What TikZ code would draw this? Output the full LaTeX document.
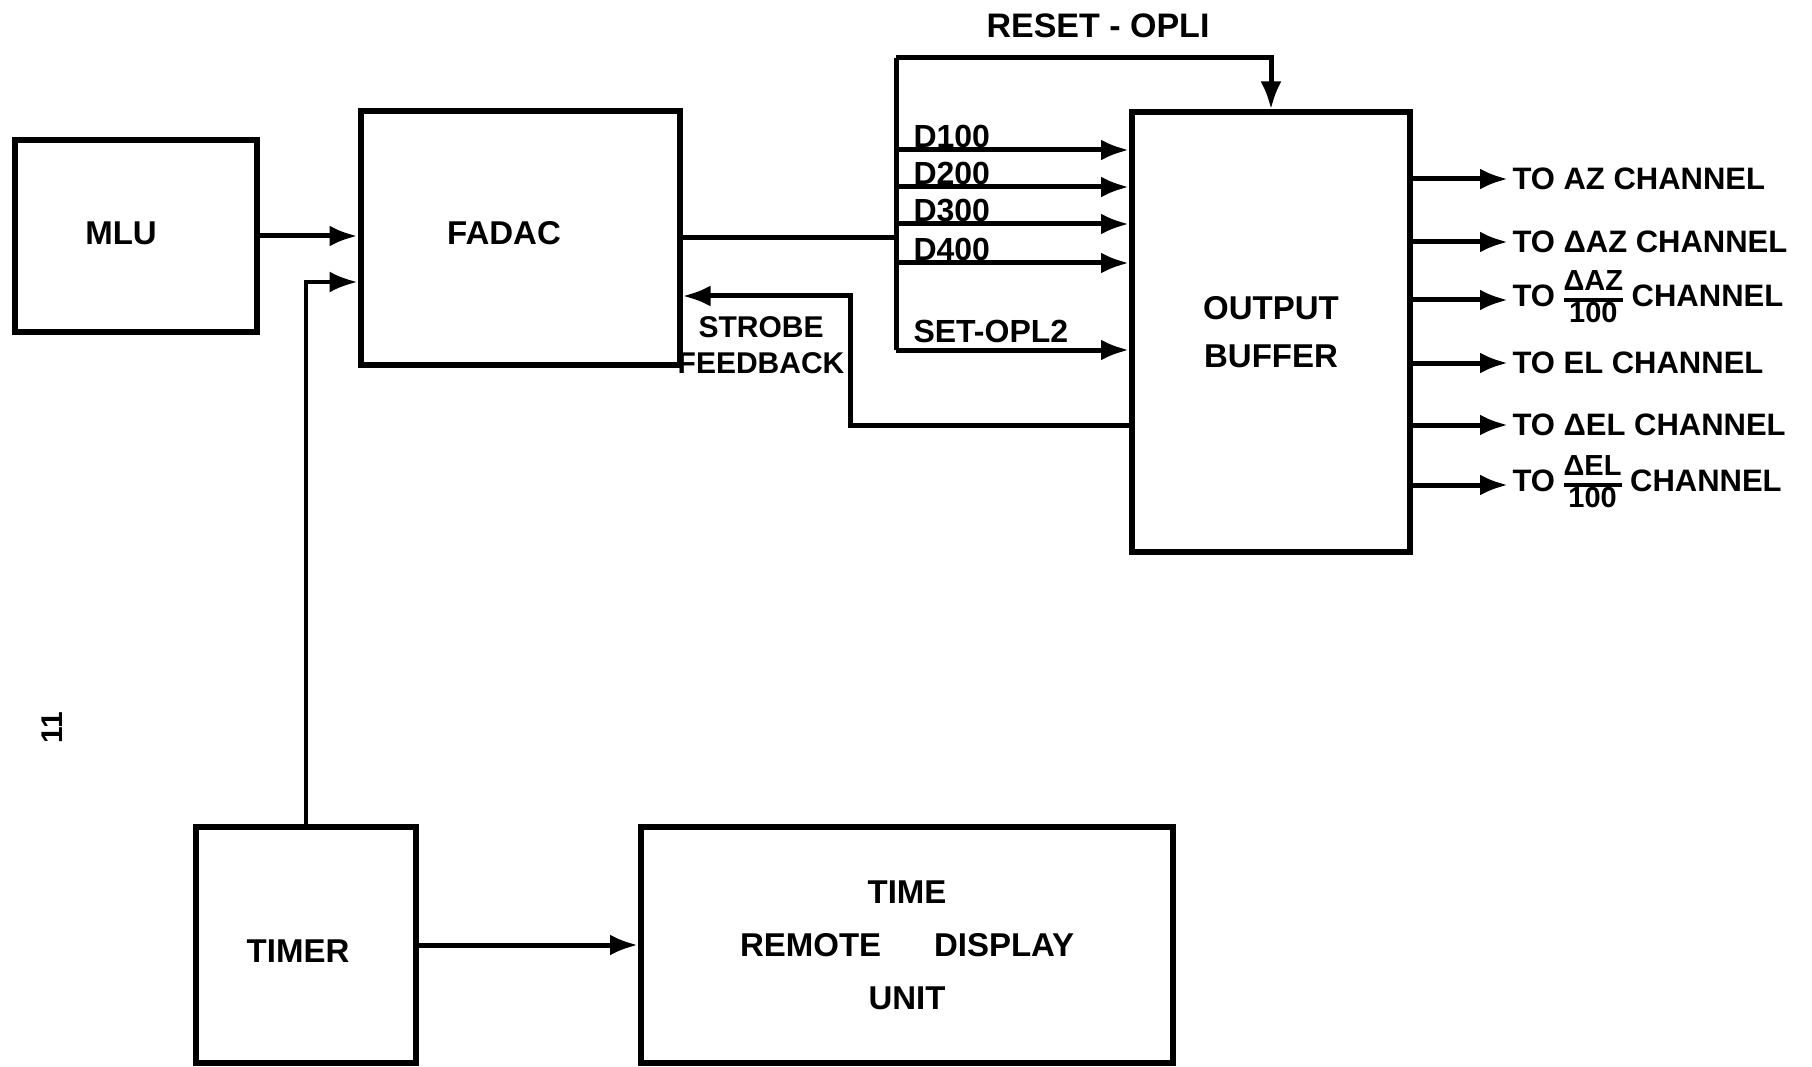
\documentclass[tikz,border=0pt]{standalone}
\usepackage{fontspec}
\setmainfont{Liberation Sans}
\usetikzlibrary{arrows.meta}
\newcommand{\chfrac}[2]{{\fontsize{29}{29}\selectfont\setlength{\arrayrulewidth}{4pt}%
  \renewcommand{\arraystretch}{0.8}%
  \begin{tabular}[c]{@{}c@{}}#1\\\hline #2\end{tabular}}}
\begin{document}
\begin{tikzpicture}[x=1pt, y=-1pt, line width=5pt,
  every node/.style={font=\fontsize{33}{40}\selectfont\bfseries}]
  \tikzstyle{blk}=[draw, line width=6pt, inner sep=0pt]
  \tikzstyle{sig}=[-{Latex[length=28pt,width=21pt]}]
  \tikzstyle{lbl}=[font=\fontsize{32}{38}\selectfont\bfseries]
  \useasboundingbox (0,0) rectangle (1812,1067);
  \node[blk, minimum width=242pt, minimum height=191pt] (mlu)   at (136,236) {};
  \node (mlutxt) at (121,233) {MLU};
  \node[blk, minimum width=319pt, minimum height=253pt] (fadac) at (520,238) {};
  \node (fadactxt) at (504,233) {FADAC};
  \node[blk, minimum width=278pt, minimum height=439pt, align=center] (ob) at (1271,332)
    {OUTPUT\\[8pt]BUFFER};
  \node[blk, minimum width=220pt, minimum height=236pt] (timer) at (306,945) {};
  \node (timertxt) at (298,951) {TIMER};
  \node[blk, minimum width=532pt, minimum height=236pt, align=center,
    font=\fontsize{33}{53}\selectfont\bfseries] (trdu) at (907,945)
    {TIME\\REMOTE\hspace{1.6em}DISPLAY\\UNIT};
  \draw[sig] (mlu.east) -- (fadac.west |- mlu.east);
  \draw[sig, line width=4pt] (timer.north) |- ([yshift=-44pt]fadac.west);
  \draw[sig] (timer.east) -- (trdu.west |- timer.east);
  \coordinate (bustop) at (896,58);
  \coordinate (busbot) at (896,350);
  \draw (bustop) -- (busbot);
  \draw (fadac.east) -- (fadac.east -| bustop);
  \draw[sig] (bustop) -| (ob.north);
  \node[font=\fontsize{34}{40}\selectfont\bfseries] (reset) at (1098,26) {RESET - OPLI};
  \foreach \n/\y/\t in {1/150/D100, 2/187/D200, 3/224/D300, 4/263/D400} {
    \coordinate (d\n) at (896,\y);
    \draw[sig] (d\n) -- (d\n -| ob.west);
    \node[lbl, anchor=south west, inner sep=1pt] (dl\n) at (910,\y+1) {\t};
  }
  \draw[sig] (busbot) -- (busbot -| ob.west);
  \node[lbl, anchor=south west, inner sep=1pt] (setopl) at (910,346) {SET-OPL2};
  \coordinate (fbk) at (850,296);
  \draw[sig] ([yshift=-93pt]ob.west) -| (fbk) -- (fbk -| fadac.east);
  \node[align=center, font=\fontsize{30}{36}\selectfont\bfseries] (strobe) at (761,345)
    {STROBE\\FEEDBACK};
  \foreach \n/\y/\t in {1/179/{TO AZ CHANNEL}, 2/242/{TO ΔAZ CHANNEL},
      3/300/{TO \chfrac{ΔAZ}{100} CHANNEL}, 4/363/{TO EL CHANNEL},
      5/425/{TO ΔEL CHANNEL}, 6/485/{TO \chfrac{ΔEL}{100} CHANNEL}} {
    \node[anchor=west, inner sep=2pt, font=\fontsize{31}{36}\selectfont\bfseries]
      (o\n) at (1508,\y) {\t};
    \draw[sig] (ob.east |- o\n) -- (o\n);
  }
  \node[rotate=90, font=\fontsize{30}{30}\selectfont\bfseries] (pg) at (52,728) {11};
\end{tikzpicture}
\end{document}
